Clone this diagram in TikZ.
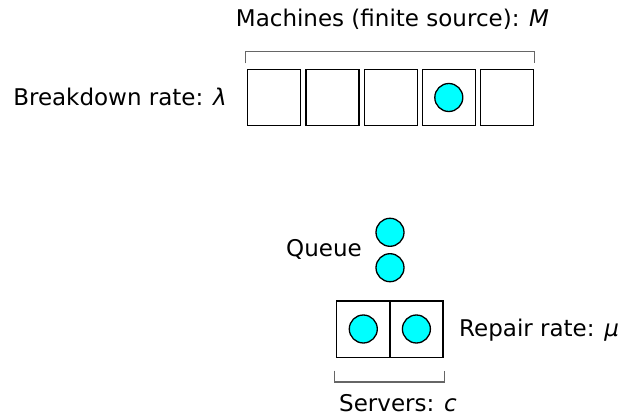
\documentclass[tikz,border=0pt]{standalone}
\usepackage{fontspec}
\setmainfont{DejaVu Sans}
\newfontfamily\dvobl{DejaVu Sans Oblique}
\begin{document}
\begin{tikzpicture}[x=1pt,y=-1pt,
  box/.style={draw,line width=1.3pt,minimum width=53pt,minimum height=56.3pt,inner sep=0pt,outer sep=0pt},
  ball/.style={draw,line width=1.3pt,circle,fill={rgb,255:red,0;green,255;blue,255},minimum size=28pt,inner sep=0pt},
  lbl/.style={inner sep=0pt,font=\fontsize{23}{27}\selectfont},
  brk/.style={draw=black!60,line width=1.2pt}]
\useasboundingbox (0,0) rectangle (622,417);
% machines
\node[box] (m1) at (274.2,97.5) {};
\node[box] (m2) at (332.5,97.5) {};
\node[box] (m3) at (390.7,97.5) {};
\node[box] (m4) at (448.8,97.5) {};
\node[box] (m5) at (507.0,97.5) {};
\node[ball] (b1) at (m4.center) {};
\coordinate (t1) at (245.7,63.3);
\coordinate (t2) at (245.7,51.7);
\coordinate (t3) at (534.3,51.7);
\coordinate (t4) at (534.3,63.3);
\draw[brk] (t1) -- (t2) -- (t3) -- (t4);
\node[lbl] (title) at (392.5,19) {Machines (finite source): {\dvobl M}};
\node[lbl] (brl) at (120,97) {Breakdown rate: {\dvobl λ}};
% queue
\node[ball] (q1) at (390,232.3) {};
\node[ball] (q2) at (390,267.7) {};
\node[lbl] (ql) at (324,249) {Queue};
% servers
\node[box] (s1) at (363.3,329) {};
\node[box] (s2) at (416.4,329) {};
\node[ball] (c1) at (s1.center) {};
\node[ball] (c2) at (s2.center) {};
\node[lbl,anchor=west] (rr) at (459,330) {Repair rate: {\dvobl μ}};
\coordinate (u1) at (334.7,370.7);
\coordinate (u2) at (334.7,382);
\coordinate (u3) at (444.3,382);
\coordinate (u4) at (444.3,370.7);
\draw[brk] (u1) -- (u2) -- (u3) -- (u4);
\node[lbl] (sv) at (398,403) {Servers: {\dvobl c}};
\end{tikzpicture}
\end{document}
